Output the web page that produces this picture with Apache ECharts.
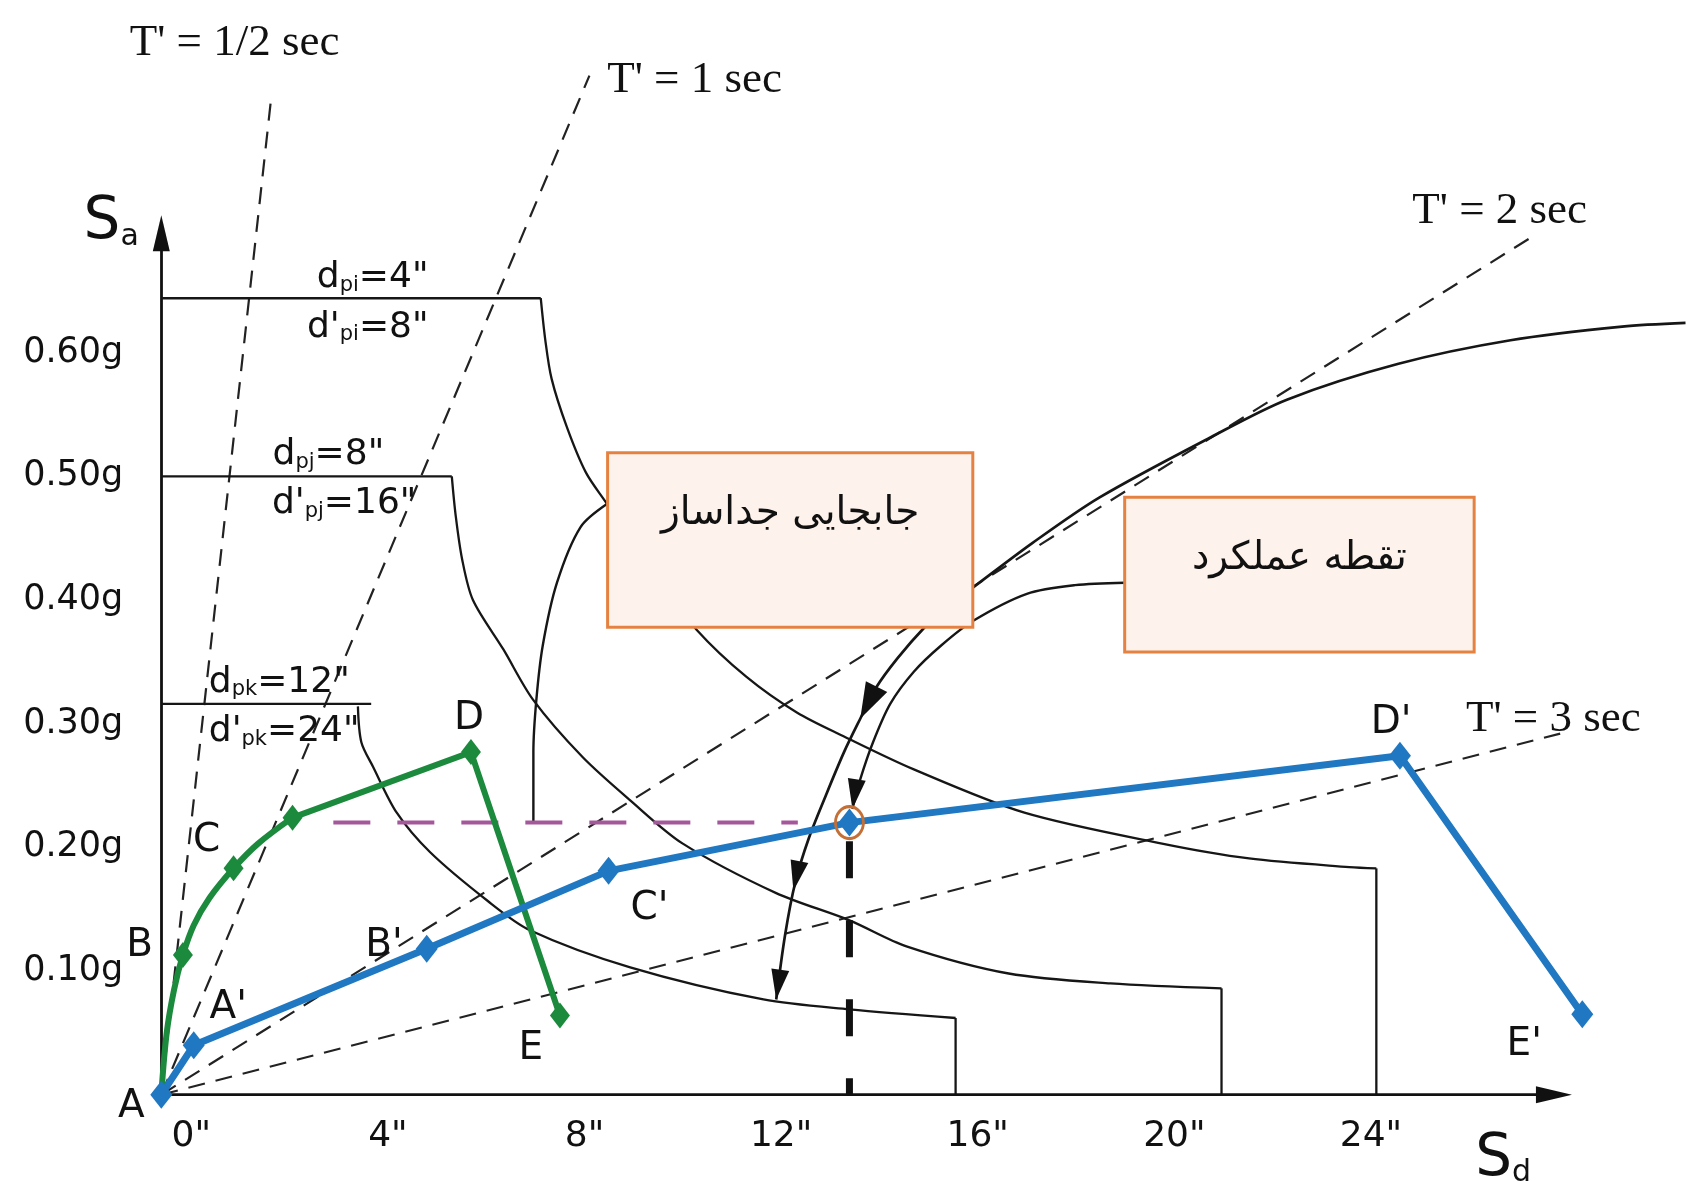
<!DOCTYPE html>
<html>
<head>
<meta charset="utf-8">
<script src="https://cdn.jsdelivr.net/npm/echarts@6/dist/echarts.min.js"></script>
<style>
  html, body { margin: 0; padding: 0; background: #ffffff; }
  #chart { width: 1686px; height: 1182px; }
</style>
</head>
<body>
<div id="chart"></div>
<script>
// Capacity-spectrum diagram: Sd in inches (x), Sa in g (y).

// ---- axis ticks ----
const xTickValues = [0, 4, 8, 12, 16, 20, 24];
const yTickValues = [0.1, 0.2, 0.3, 0.4, 0.5, 0.6];
const xAxisLength = 28.70;   // Sd where the horizontal axis arrow ends

// ---- constant-period rays T' (from the origin to their far end) ----
const periodLineEnds = [[2.23, 0.804], [8.71, 0.824], [27.82, 0.692], [28.46, 0.292]];
const periodLineNames = ["T' = 1/2 sec", "T' = 1 sec", "T' = 2 sec", "T' = 3 sec"];

// ---- demand spectra (plateau, descending branch, drop to the axis) ----
const spectrumPlateaus = [
  [[0, 0.644], [7.72, 0.644]],
  [[0, 0.5], [5.91, 0.5]],
  [[0, 0.316], [4.27, 0.316]]
];
const spectrumCurves = [
  [[7.72, 0.644], [7.81, 0.611], [7.94, 0.579], [8.25, 0.540], [8.64, 0.503], [9.08, 0.477],
   [9.95, 0.424], [10.89, 0.376], [11.90, 0.338], [12.93, 0.309], [13.87, 0.290], [15.31, 0.263],
   [17.56, 0.228], [20.36, 0.203], [22.13, 0.191], [24.17, 0.184], [24.72, 0.183]],
  [[5.91, 0.5], [5.99, 0.468], [6.12, 0.433], [6.34, 0.400], [6.96, 0.360], [7.57, 0.319],
   [8.57, 0.273], [9.54, 0.238], [10.61, 0.203], [12.51, 0.163], [14.00, 0.141], [15.16, 0.120],
   [17.24, 0.098], [19.31, 0.090], [21.57, 0.086]],
  [[4.00, 0.314], [4.07, 0.285], [4.31, 0.265], [4.79, 0.228], [5.47, 0.196], [6.63, 0.157],
   [7.50, 0.133], [9.54, 0.103], [12.25, 0.077], [14.00, 0.069], [16.16, 0.062]]
];
const spectrumDrops = [
  [[24.72, 0.183], [24.72, 0]],
  [[21.57, 0.086], [21.57, 0]],
  [[16.16, 0.062], [16.16, 0]]
];

// ---- leader / response curves ----
const isolatorLeader = [[9.08, 0.478], [8.53, 0.459], [8.05, 0.414], [7.76, 0.363], [7.63, 0.319], [7.57, 0.277], [7.57, 0.22]];
const responseArc = [[31.01, 0.624], [29.72, 0.621], [27.45, 0.610], [25.17, 0.591], [22.90, 0.562],
  [21.37, 0.532], [19.09, 0.483], [17.72, 0.446], [16.51, 0.410], [15.97, 0.394], [15.53, 0.378],
  [14.98, 0.353], [14.54, 0.329], [14.22, 0.304], [13.89, 0.277], [13.52, 0.242], [13.17, 0.207],
  [12.90, 0.172], [12.69, 0.129], [12.51, 0.077]];
const performanceLeader = [[19.60, 0.414], [18.59, 0.412], [17.61, 0.405], [16.51, 0.383], [15.86, 0.363],
  [15.31, 0.342], [14.83, 0.316], [14.48, 0.285], [14.22, 0.255], [14.06, 0.231]];

// arrowheads: tail point, tip point, size class (0 small, 1 large, 2 axis)
const arrowTails = [[14.54, 0.329], [12.99, 0.190], [12.60, 0.103], [14.15, 0.255], [27.9, 0]];
const arrowTips  = [[14.22, 0.304], [12.86, 0.165], [12.51, 0.077], [14.06, 0.231], [xAxisLength, 0]];
const arrowKinds = [1, 0, 0, 0, 2];

// ---- performance point ----
const performancePoint = [14.0, 0.22];
const performanceLevel = [[3.50, 0.22], [12.95, 0.22]];
const performanceDrop = [[14.0, 0.205], [14.0, 0]];

// ---- capacity curves ----
const fixedBaseCurve = [[0, 0], [0.11, 0.050], [0.26, 0.085], [0.44, 0.113], [0.66, 0.137],
  [0.98, 0.159], [1.47, 0.183], [1.97, 0.203], [2.67, 0.224]];
const fixedBaseTail = [[2.67, 0.224], [6.30, 0.277], [8.11, 0.064]];
const fixedBaseMarkers = [[0.44, 0.113], [1.47, 0.183], [2.67, 0.224], [6.30, 0.277], [8.11, 0.064]];
const isolatedCurve = [[0, 0], [0.66, 0.040], [5.40, 0.118], [9.10, 0.181], [14.0, 0.22], [25.20, 0.274], [28.91, 0.065]];

// ---- callout boxes ----
const boxCorners = [[9.08, 0.519, 16.51, 0.378], [19.60, 0.483, 26.71, 0.358]];
const boxTexts = ['جابجایی جداساز', 'تقطه عملکرد'];

// ---- text annotations ----
const periodLabelAnchors = [[1.49, 0.850], [10.85, 0.820], [27.23, 0.714], [28.32, 0.304]];
const pointLabels = ['A', 'B', 'C', 'D', 'E', "A'", "B'", "C'", "D'", "E'"];
const pointLabelAnchors = [[-0.61, -0.010], [-0.44, 0.120], [0.92, 0.205], [6.26, 0.304], [7.52, 0.037],
  [1.36, 0.070], [4.53, 0.120], [9.93, 0.150], [25.02, 0.301], [27.73, 0.040]];
const spectrumLabels = [
  '{b|d}{s|pi}{b|=4"}', "{b|d'}{s|pi}{b|=8\"}",
  '{b|d}{s|pj}{b|=8"}', "{b|d'}{s|pj}{b|=16\"}",
  '{b|d}{s|pk}{b|=12"}', "{b|d'}{s|pk}{b|=24\"}"
];
const spectrumLabelAnchors = [[4.30, 0.663], [4.20, 0.623], [3.40, 0.520], [3.72, 0.480], [2.40, 0.336], [2.50, 0.296]];
const axisNameLabels = ['{S|S}{a|a}', '{S|S}{a|d}'];
const axisNameAnchors = [[-1.02, 0.707], [27.30, -0.050]];

// ---------------------------------------------------------------
const chart = echarts.init(document.getElementById('chart'), null, { renderer: 'canvas' });
const INK = '#161616';
const BLUE = '#1f78c1';
const GREEN = '#1c8a3c';
const SANS = 'DejaVu Sans';
const TEXT = '#111111';

function plainLine(data, lineStyle, extra) {
  return Object.assign({
    type: 'line', data: data, symbol: 'none', silent: true, clip: false,
    animation: false, lineStyle: lineStyle, z: 2
  }, extra || {});
}

const series = [];

// horizontal axis line (arrowhead is drawn with the other arrowheads)
series.push(plainLine([[0, 0], [28.1, 0]], { color: '#111111', width: 2.8 }, { z: 3 }));

periodLineEnds.forEach(function (end) {
  series.push(plainLine([[0, 0], end], { color: '#222222', width: 2.2, type: [17, 11] }, { z: 1 }));
});
spectrumPlateaus.forEach(function (d) { series.push(plainLine(d, { color: INK, width: 2.3 })); });
spectrumCurves.forEach(function (d) { series.push(plainLine(d, { color: INK, width: 2.3 }, { smooth: 0.3 })); });
spectrumDrops.forEach(function (d) { series.push(plainLine(d, { color: INK, width: 2.3 })); });

series.push(plainLine(isolatorLeader, { color: INK, width: 2.4 }, { smooth: 0.3 }));
series.push(plainLine(responseArc, { color: INK, width: 2.7 }, { smooth: 0.3 }));
series.push(plainLine(performanceLeader, { color: INK, width: 2.4 }, { smooth: 0.3 }));

series.push(plainLine(performanceLevel, { color: '#a4579a', width: 4, type: [37, 27] }, { z: 3 }));
series.push(plainLine(performanceDrop, { color: '#111111', width: 7, type: [37, 42] }, { z: 3 }));

series.push(plainLine(fixedBaseCurve, { color: GREEN, width: 6 }, { smooth: 0.35, z: 4 }));
series.push(plainLine(fixedBaseTail, { color: GREEN, width: 6, join: 'miter' }, { z: 4 }));
series.push(plainLine(isolatedCurve, { color: BLUE, width: 7 }, { z: 5 }));

series.push({
  type: 'scatter', data: fixedBaseMarkers, symbol: 'diamond', symbolSize: [20, 26],
  itemStyle: { color: GREEN, opacity: 1 }, silent: true, clip: false, animation: false, z: 6
});
series.push({
  type: 'scatter', data: isolatedCurve, symbol: 'diamond', symbolSize: [22, 28],
  itemStyle: { color: BLUE, opacity: 1 }, silent: true, clip: false, animation: false, z: 6
});
series.push({
  type: 'scatter', data: [performancePoint], symbol: 'circle', symbolSize: [28, 32],
  itemStyle: { color: 'rgba(0,0,0,0)', borderColor: '#c46f35', borderWidth: 3, opacity: 1 },
  silent: true, clip: false, animation: false, z: 7
});

// arrowheads along the response curves and at the end of the Sd axis
const arrowDims = [[30, 9], [36, 12], [36, 8.5]];
series.push({
  type: 'custom', silent: true, animation: false, z: 6, clip: false,
  data: arrowTails.map(function (t, i) { return [t[0], t[1], arrowTips[i][0], arrowTips[i][1], arrowKinds[i]]; }),
  renderItem: function (params, api) {
    const a = api.coord([api.value(0), api.value(1)]);
    const b = api.coord([api.value(2), api.value(3)]);
    const dims = arrowDims[api.value(4)];
    const L = dims[0], W = dims[1];
    const dx = b[0] - a[0], dy = b[1] - a[1], d = Math.hypot(dx, dy);
    const ux = dx / d, uy = dy / d;
    const bx = b[0] - ux * L, by = b[1] - uy * L;
    return {
      type: 'polygon',
      shape: { points: [[b[0], b[1]], [bx - uy * W, by + ux * W], [bx + uy * W, by - ux * W]] },
      style: { fill: '#111111' }
    };
  }
});

// callout boxes
series.push({
  type: 'custom', silent: true, animation: false, z: 8, clip: false,
  data: boxCorners,
  renderItem: function (params, api) {
    const p1 = api.coord([api.value(0), api.value(1)]);
    const p2 = api.coord([api.value(2), api.value(3)]);
    return {
      type: 'group',
      children: [
        { type: 'rect', shape: { x: p1[0], y: p1[1], width: p2[0] - p1[0], height: p2[1] - p1[1] },
          style: { fill: '#fdf3ec', stroke: '#e58241', lineWidth: 3 } },
        { type: 'text', style: { text: boxTexts[params.dataIndex], x: (p1[0] + p2[0]) / 2, y: p1[1] + 42,
          align: 'center', verticalAlign: 'top', fontSize: 39, fontFamily: SANS, fill: TEXT } }
      ]
    };
  }
});

// text annotations
const annotationItems = [];
function addText(anchor, text, label) {
  annotationItems.push({ value: anchor, label: Object.assign({ show: true, position: 'inside', formatter: text }, label) });
}
periodLineNames.forEach(function (t, i) {
  addText(periodLabelAnchors[i], t, { fontFamily: 'Liberation Serif', fontSize: 45, color: TEXT });
});
pointLabels.forEach(function (t, i) {
  addText(pointLabelAnchors[i], t, { fontFamily: SANS, fontSize: 39, color: TEXT });
});
const subRich = {
  b: { fontFamily: SANS, fontSize: 36, color: TEXT, lineHeight: 42, verticalAlign: 'bottom' },
  s: { fontFamily: SANS, fontSize: 21, color: TEXT, lineHeight: 12, verticalAlign: 'bottom' }
};
spectrumLabels.forEach(function (t, i) {
  addText(spectrumLabelAnchors[i], t, { rich: subRich });
});
const nameRich = {
  S: { fontFamily: SANS, fontSize: 58, color: TEXT, lineHeight: 64, verticalAlign: 'bottom' },
  a: { fontFamily: SANS, fontSize: 30, color: TEXT, lineHeight: 34, verticalAlign: 'bottom' }
};
axisNameLabels.forEach(function (t, i) {
  addText(axisNameAnchors[i], t, { rich: nameRich });
});
series.push({
  type: 'scatter', data: annotationItems, symbolSize: 1,
  itemStyle: { color: 'rgba(0,0,0,0)', opacity: 1 },
  silent: true, clip: false, animation: false, z: 9
});

chart.setOption({
  backgroundColor: '#ffffff',
  animation: false,
  grid: { left: 161.3, right: 0, top: 233.3, bottom: 87.3, outerBoundsMode: 'none' },
  xAxis: {
    type: 'value', min: 0, max: 31.02,
    axisLine: { show: false },
    axisTick: { show: false },
    splitLine: { show: false },
    axisLabel: {
      customValues: xTickValues, margin: 24, padding: [0, 0, 0, 60],
      fontFamily: SANS, fontSize: 36, color: TEXT,
      formatter: function (v) { return v + '"'; }
    }
  },
  yAxis: {
    type: 'value', min: 0, max: 0.6965,
    axisLine: { show: true, onZero: false, symbol: ['none', 'triangle'], symbolSize: [17, 36],
      lineStyle: { color: '#111111', width: 2.8 } },
    axisTick: { show: false },
    splitLine: { show: false },
    axisLabel: {
      customValues: yTickValues, margin: 38, padding: [0, 0, 10, 0],
      fontFamily: SANS, fontSize: 35, color: TEXT,
      formatter: function (v) { return v.toFixed(2) + 'g'; }
    }
  },
  series: series
});
</script>
</body>
</html>
